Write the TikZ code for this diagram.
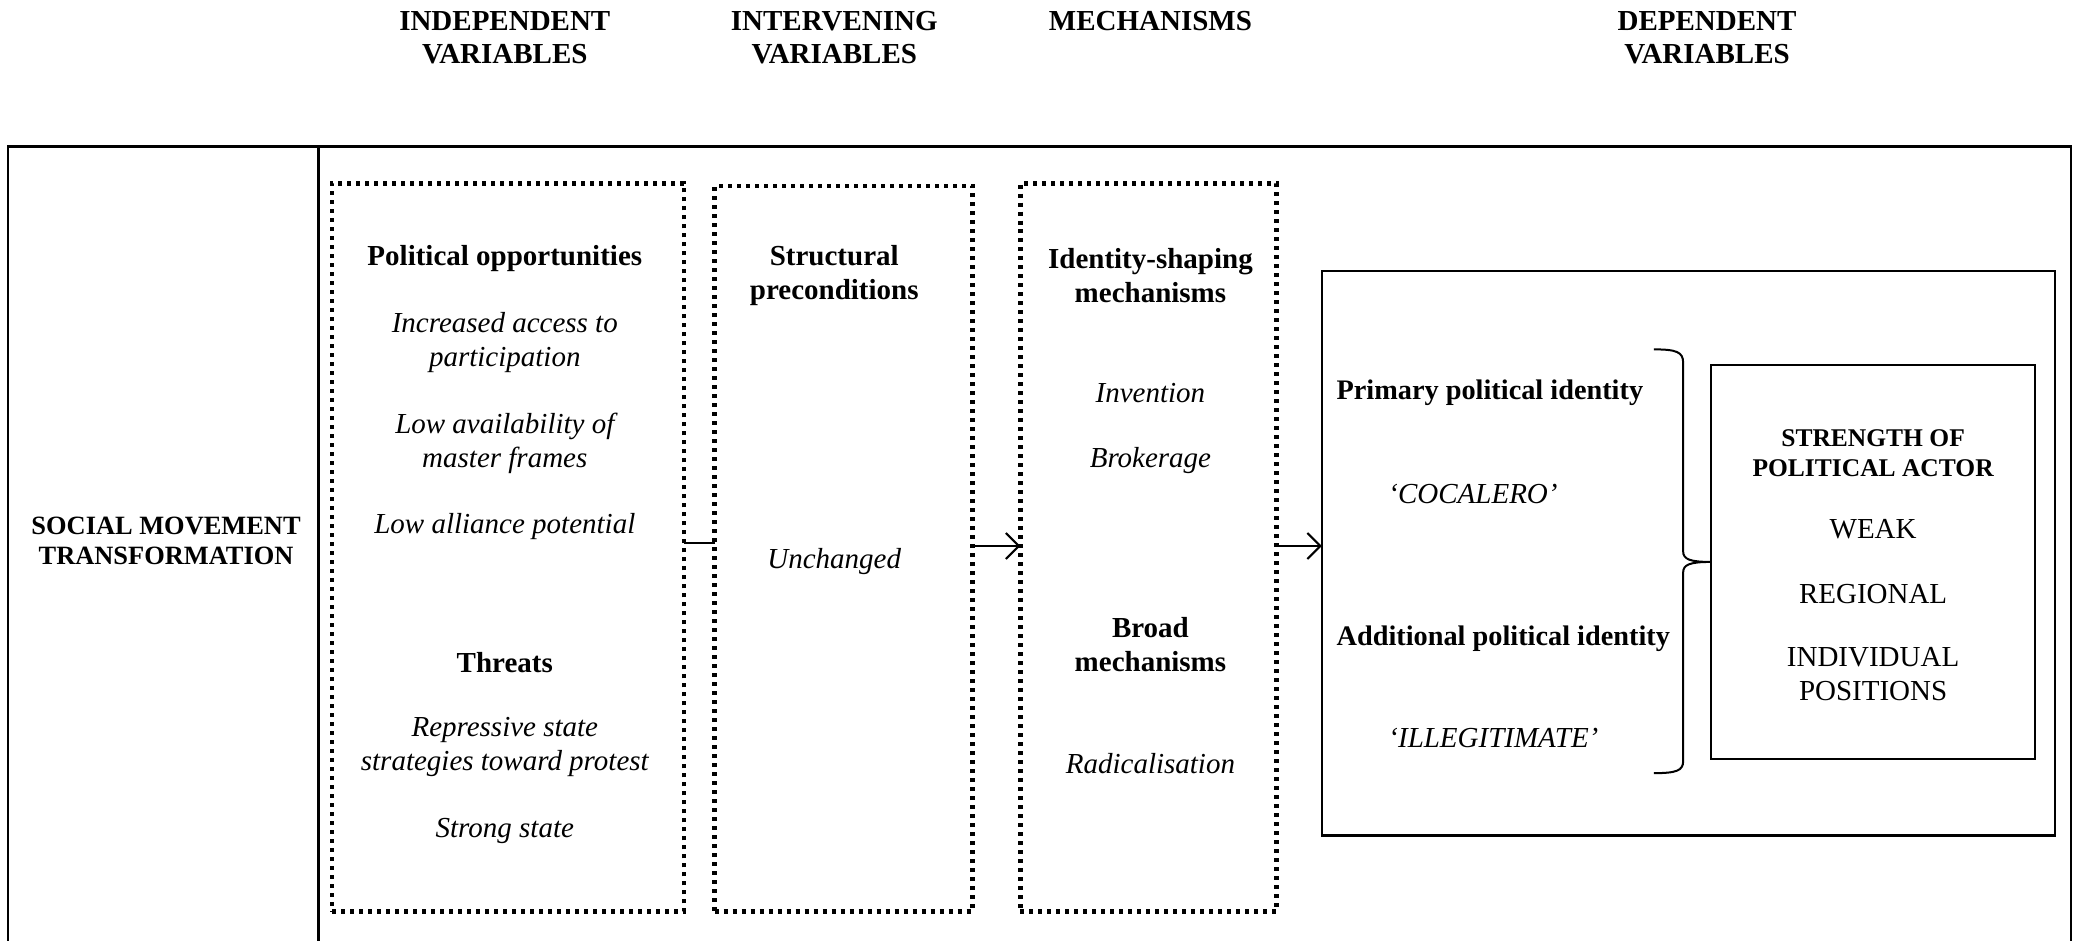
\documentclass[tikz,border=0pt]{standalone}
\usepackage{fontspec}
\setmainfont{Liberation Serif}
\usetikzlibrary{arrows.meta}
\newlength\pxu
\setlength\pxu{1.3285pt}
\begin{document}
\begin{tikzpicture}[x=1.3285pt,y=-1.3285pt,
  hd/.style={font=\fontsize{29}{33}\selectfont\bfseries,align=center,inner sep=0pt},
  bt/.style={font=\fontsize{29}{34}\selectfont\bfseries,align=center,inner sep=0pt,yshift=-2pt},
  dbt/.style={font=\fontsize{28.3}{34}\selectfont\bfseries,align=center,inner sep=0pt,yshift=-2pt},
  it/.style={font=\fontsize{29}{34}\selectfont\itshape,align=center,inner sep=0pt,yshift=-2pt},
  rt/.style={font=\fontsize{29}{34}\selectfont,align=center,inner sep=0pt,yshift=-1.5pt},
  sbt/.style={font=\fontsize{25.5}{30.5}\selectfont\bfseries,align=center,inner sep=0pt,yshift=-1pt},
  smt/.style={font=\fontsize{26.4}{30.5}\selectfont\bfseries,align=center,inner sep=0pt,yshift=-1pt},
  dotbox/.style={draw,line width=4.5pt,dash pattern=on 4pt off 5pt,inner sep=0pt,outer sep=0pt},
  solidbox/.style={draw,line width=2.6pt,inner sep=0pt,outer sep=0pt},
  frame/.style={line width=2.8pt},
  conn/.style={line width=2pt},
  arr/.style={line width=2pt,-{Straight Barb[length=13pt,width=26pt,line width=2pt]}},
  brc/.style={line width=2pt}]
\useasboundingbox (0,0) rectangle (1568,708);

% headers
\node[hd] (h1) at (380,28.5) {INDEPENDENT\\VARIABLES};
\node[hd] (h2) at (628,28.5) {INTERVENING\\VARIABLES};
\node[hd] (h3) at (866,16) {MECHANISMS};
\node[hd] (h4) at (1285,28.5) {DEPENDENT\\VARIABLES};

% outer frame
\draw[frame] (6,712) -- (6,110.5) -- (1559,110.5) -- (1559,712);
\draw[frame] (240,110.5) -- (240,712);
\node[smt] (smtx) at (125,406.5) {SOCIAL MOVEMENT\\TRANSFORMATION};

% dotted boxes
\node[dotbox,minimum width=265\pxu,minimum height=548\pxu] (b1) at (382.5,412) {};
\node[dotbox,minimum width=194\pxu,minimum height=546\pxu] (b2) at (635,413) {};
\node[dotbox,minimum width=193\pxu,minimum height=548\pxu] (b3) at (864.5,412) {};

% box 1 texts
\node[bt] (po) at (380,193) {Political opportunities};
\node[it] (po1) at (380,256) {Increased access to\\participation};
\node[it] (po2) at (380,332.5) {Low availability of\\master frames};
\node[it] (po3) at (380,395) {Low alliance potential};
\node[bt] (th) at (380,497) {Threats};
\node[it] (th1) at (380,560.5) {Repressive state\\strategies toward protest};
\node[it] (th2) at (380,624) {Strong state};

% box 2 texts
\node[bt] (sp) at (628,206) {Structural\\preconditions};
\node[it] (un) at (628,421) {Unchanged};

% box 3 texts
\node[bt] (ism) at (866,206) {Identity-shaping\\mechanisms};
\node[it] (inv) at (866,294) {Invention};
\node[it] (bro) at (866,345) {Brokerage};
\node[bt] (brm) at (866,484) {Broad\\mechanisms};
\node[it] (rad) at (866,573) {Radicalisation};

% dependent box
\node[solidbox,minimum width=552\pxu,minimum height=425\pxu] (sb) at (1271,416.5) {};
\node[solidbox,line width=2pt,minimum width=244\pxu,minimum height=296\pxu] (ib) at (1410,423) {};

\node[dbt,anchor=west] (ppi) at (1006,294) {Primary political identity};
\node[it,anchor=west] (coc) at (1045,370) {‘COCALERO’};
\node[dbt,anchor=west] (api) at (1006,479) {Additional political identity};
\node[it,anchor=west] (ill) at (1045,554) {‘ILLEGITIMATE’};

\node[sbt] (spa) at (1410,340.5) {STRENGTH OF\\POLITICAL ACTOR};
\node[rt] (wk) at (1410,397) {WEAK};
\node[rt] (rg) at (1410,446) {REGIONAL};
\node[rt] (ind) at (1410,506.5) {INDIVIDUAL\\POSITIONS};

% brace
\draw[brc] (1245,263) .. controls (1262,263) and (1267,265) .. (1267,273)
  -- (1267,415) .. controls (1267,421) and (1272,423) .. (ib.west)
  .. controls (1272,423) and (1267,425) .. (1267,431)
  -- (1267,573) .. controls (1267,580) and (1262,582) .. (1245,582);

% connectors
\draw[conn] (b1.east |- 0,409) -- (b2.west |- 0,409);
\draw[arr] (b2.east |- 0,411) -- (b3.west |- 0,411);
\draw[arr] (b3.east |- 0,411) -- (sb.west |- 0,411);
\end{tikzpicture}
\end{document}
